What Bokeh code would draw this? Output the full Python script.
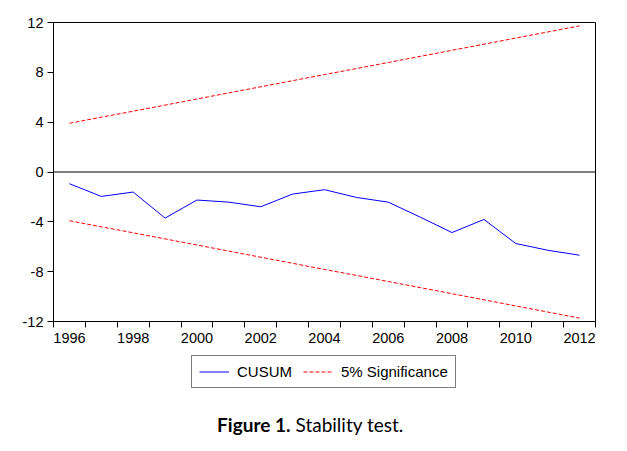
from bokeh.plotting import figure
from bokeh.models import Range1d, FixedTicker, Span, Legend, LegendItem, Label
from bokeh.layouts import column
from bokeh.embed import file_html
from bokeh.resources import INLINE

years = list(range(1996, 2013))
cusum = [-0.94, -1.96, -1.61, -3.70, -2.25, -2.42, -2.79, -1.77, -1.42,
         -2.04, -2.42, -3.62, -4.86, -3.81, -5.74, -6.28, -6.68]
upper = [3.91, 4.40, 4.88, 5.37, 5.86, 6.35, 6.84, 7.33, 7.82,
         8.30, 8.79, 9.28, 9.77, 10.26, 10.75, 11.24, 11.73]
lower = [-v for v in upper]
x_tick_labels = [1996, 1998, 2000, 2002, 2004, 2006, 2008, 2010, 2012]
x_minor = [y - 0.5 for y in years] + [years[-1] + 0.5]
y_ticks = [-12, -8, -4, 0, 4, 8, 12]

FONT = "Liberation Sans"
BLUE = "#0000FF"
RED = "#FF0000"

p = figure(width=611, height=355, output_backend="svg", toolbar_location=None,
           x_range=Range1d(1995.5, 2012.5), y_range=Range1d(-12, 12),
           min_border_left=53, min_border_right=16, min_border_top=22,
           min_border_bottom=34)
p.grid.visible = False
p.outline_line_color = "black"
p.outline_line_width = 1
p.background_fill_color = "white"
p.border_fill_color = "white"

xa = p.xaxis[0]
xa.ticker = FixedTicker(ticks=x_tick_labels, minor_ticks=x_minor)
xa.major_tick_out = 0
xa.major_tick_in = 0
xa.minor_tick_out = 6
xa.minor_tick_in = 0
xa.minor_tick_line_color = "black"
xa.axis_line_color = "black"
xa.major_label_standoff = 5
xa.major_label_text_font = FONT
xa.major_label_text_font_size = "14.5px"
xa.major_label_text_color = "black"

ya = p.yaxis[0]
ya.ticker = FixedTicker(ticks=y_ticks)
ya.major_label_overrides = {t: str(t) for t in y_ticks}
ya.major_tick_out = 6
ya.major_tick_in = 0
ya.minor_tick_out = 0
ya.minor_tick_in = 0
ya.axis_line_color = "black"
ya.major_tick_line_color = "black"
ya.major_label_standoff = 4
ya.major_label_text_font = FONT
ya.major_label_text_font_size = "14.5px"
ya.major_label_text_color = "black"

p.add_layout(Span(location=0, dimension="width", line_color="black", line_width=1))

p.line(years, cusum, line_color=BLUE, line_width=1)
p.line(years, upper, line_color=RED, line_width=1, line_dash="4 2")
p.line(years, lower, line_color=RED, line_width=1, line_dash="4 2")

# legend + caption panel (frame aligned with the plot's frame by the column)
q = figure(width=611, height=90, output_backend="svg", toolbar_location=None,
           x_range=Range1d(0, 1), y_range=Range1d(0, 1),
           x_axis_type=None, y_axis_type=None,
           min_border_left=53, min_border_right=16, min_border_top=0,
           min_border_bottom=0)
q.grid.visible = False
q.outline_line_color = None
q.background_fill_color = "white"
q.border_fill_color = "white"

# same series drawn out of view in this panel, only to supply legend glyphs
k1 = q.line(years, cusum, line_color=BLUE, line_width=1)
k2 = q.line(years, upper, line_color=RED, line_width=1, line_dash="4 2")

FL = 53
legend = Legend(items=[LegendItem(label="CUSUM", renderers=[k1]),
                       LegendItem(label="5% Significance", renderers=[k2])],
                orientation="horizontal", location=(191 - FL, 57),
                label_text_font=FONT, label_text_font_size="15px",
                label_text_color="black", label_text_line_height=0.6,
                border_line_color="black", border_line_width=1,
                padding=7, margin=0, spacing=11, label_standoff=8,
                glyph_width=30, glyph_height=9, label_height=9)
q.add_layout(legend, "center")

cap1 = Label(x=290 - FL, y=21, x_units="screen", y_units="screen",
             text="Figure 1.", text_font="Lato", text_font_style="bold",
             text_font_size="19px", text_align="right", text_baseline="middle",
             text_color="black")
cap2 = Label(x=295 - FL, y=21, x_units="screen", y_units="screen",
             text="Stability test.", text_font="Lato",
             text_font_size="19px", text_align="left", text_baseline="middle",
             text_color="black")
q.add_layout(cap1)
q.add_layout(cap2)

layout = column(p, q, spacing=0)
open("out.html", "w").write(file_html(layout, INLINE))
